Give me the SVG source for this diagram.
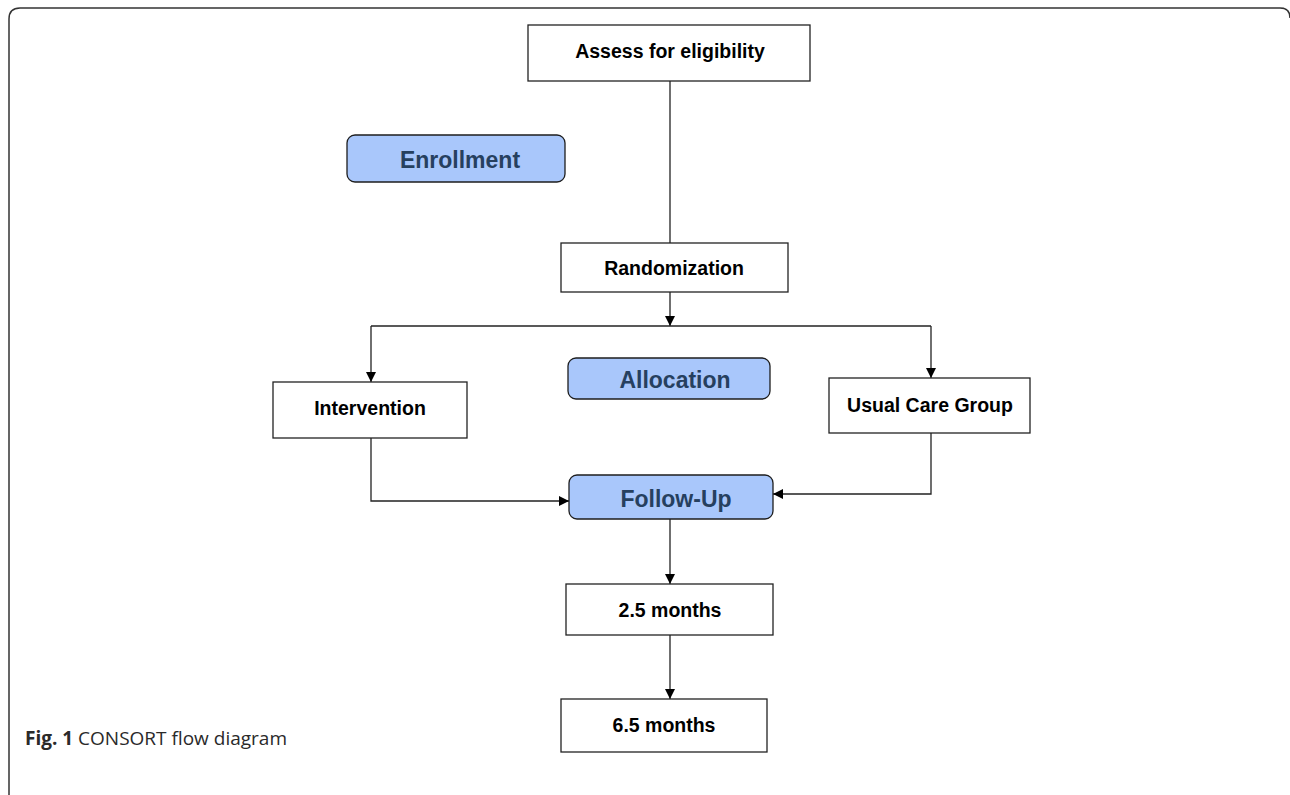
<svg xmlns="http://www.w3.org/2000/svg" width="1290" height="795" viewBox="0 0 1290 795">
<style>
.box{fill:#fff;stroke:#222;stroke-width:1.3}
.hdr{fill:#a9c7fb;stroke:#1e1e1e;stroke-width:1.3}
.t{font-family:"Liberation Sans",Arial,sans-serif;font-weight:bold;font-size:19.5px;fill:#000;text-anchor:middle}
.h{font-family:"Liberation Sans",Arial,sans-serif;font-weight:bold;font-size:23px;fill:#26405f;text-anchor:middle}
.c{stroke:#222;stroke-width:1.3;fill:none}
</style>
<defs>
<marker id="ah" viewBox="0 0 10 10" refX="10" refY="5" markerWidth="10" markerHeight="10" markerUnits="userSpaceOnUse" orient="auto">
<path d="M0 0 L10 5 L0 10 Z" fill="#000"/>
</marker>
</defs>
<rect width="1290" height="795" fill="#fff"/>
<path d="M9 795 L9 19 Q9 8 20 8 L1280 8 Q1290 8 1290 18" fill="none" stroke="#333" stroke-width="1.5"/>
<g id="connectors">
<line class="c" x1="670" y1="81" x2="670" y2="243"/>
<line class="c" x1="670" y1="292" x2="670" y2="326" marker-end="url(#ah)"/>
<line class="c" x1="371" y1="326" x2="931" y2="326"/>
<line class="c" x1="371" y1="326" x2="371" y2="382" marker-end="url(#ah)"/>
<line class="c" x1="931" y1="326" x2="931" y2="378" marker-end="url(#ah)"/>
<polyline class="c" points="371,438 371,501 569,501" marker-end="url(#ah)"/>
<polyline class="c" points="931,433 931,494 773,494" marker-end="url(#ah)"/>
<line class="c" x1="670" y1="519" x2="670" y2="584" marker-end="url(#ah)"/>
<line class="c" x1="670" y1="635" x2="670" y2="699" marker-end="url(#ah)"/>
</g>
<g id="assess">
<rect class="box" x="528" y="25" width="282" height="56"/>
<text class="t" x="670" y="58">Assess for eligibility</text>
</g>
<g id="enrollment">
<rect class="hdr" x="347" y="135" width="218" height="47" rx="8"/>
<text class="h" x="460" y="168">Enrollment</text>
</g>
<g id="randomization">
<rect class="box" x="561" y="243" width="227" height="49"/>
<text class="t" x="674" y="275">Randomization</text>
</g>
<g id="allocation">
<rect class="hdr" x="568" y="358" width="202" height="41" rx="8"/>
<text class="h" x="675" y="388">Allocation</text>
</g>
<g id="intervention">
<rect class="box" x="273" y="382" width="194" height="56"/>
<text class="t" x="370" y="415">Intervention</text>
</g>
<g id="usualcare">
<rect class="box" x="829" y="378" width="201" height="55"/>
<text class="t" x="930" y="412">Usual Care Group</text>
</g>
<g id="followup">
<rect class="hdr" x="569" y="475" width="204" height="44" rx="8"/>
<text class="h" x="676" y="507">Follow-Up</text>
</g>
<g id="m25">
<rect class="box" x="566" y="584" width="207" height="51"/>
<text class="t" x="670" y="617">2.5 months</text>
</g>
<g id="m65">
<rect class="box" x="561" y="699" width="206" height="53"/>
<text class="t" x="664" y="732">6.5 months</text>
</g>
<text x="25" y="745" font-family="'Open Sans','Noto Sans',sans-serif" font-size="19px" fill="#2a2a2a"><tspan font-weight="bold">Fig. 1</tspan> CONSORT flow diagram</text>
</svg>
